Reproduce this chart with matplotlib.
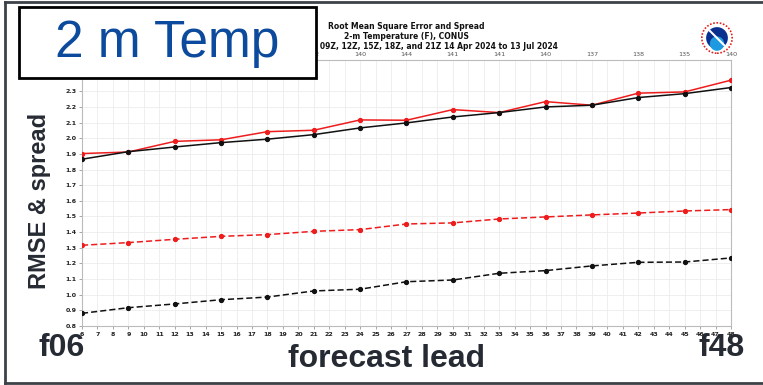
import matplotlib
matplotlib.use("Agg")
import matplotlib.pyplot as plt
from matplotlib.patches import Rectangle, Circle
from matplotlib.lines import Line2D

leads = [6, 9, 12, 15, 18, 21, 24, 27, 30, 33, 36, 39, 42, 45, 48]
rmse_red = [1.902, 1.912, 1.980, 1.990, 2.042, 2.051, 2.117, 2.115, 2.183, 2.164, 2.234, 2.211, 2.288, 2.296, 2.371]
rmse_black = [1.866, 1.914, 1.944, 1.972, 1.994, 2.023, 2.066, 2.098, 2.136, 2.164, 2.200, 2.211, 2.260, 2.285, 2.324]
spread_red = [1.316, 1.333, 1.354, 1.373, 1.384, 1.405, 1.416, 1.452, 1.459, 1.484, 1.497, 1.510, 1.522, 1.535, 1.544]
spread_black = [0.881, 0.917, 0.941, 0.968, 0.985, 1.024, 1.035, 1.083, 1.094, 1.137, 1.154, 1.184, 1.207, 1.209, 1.235]
# counts for leads 6-18 are hidden behind the title box in the reference
counts = ["", "", "", "", "", "142", "140", "144", "141", "141", "140", "137", "138", "135", "140"]
yticks = [0.8, 0.9, 1.0, 1.1, 1.2, 1.3, 1.4, 1.5, 1.6, 1.7, 1.8, 1.9, 2.0, 2.1, 2.2, 2.3]
xticks = list(range(6, 49))

W, H = 763, 385
fig = plt.figure(figsize=(W / 100, H / 100), dpi=100)
fig.patch.set_facecolor("white")

def fx(px):
    return px / W

def fy(py):
    return 1 - py / H

ax = fig.add_axes([fx(82), fy(326), fx(731) - fx(82), fy(60) - fy(326)])
ax.set_xlim(6, 48)
ax.set_ylim(0.8, 2.5)

red = "#ee1c1c"
blk = "#111111"
ax.plot(leads, rmse_red, color=red, lw=1.1, marker="o", ms=2.8, zorder=3)
ax.plot(leads, rmse_black, color=blk, lw=1.1, marker="o", ms=2.8, zorder=3)
ax.plot(leads, spread_red, color=red, lw=1.1, ls=(0, (4, 2)), marker="o", ms=2.8, zorder=3)
ax.plot(leads, spread_black, color=blk, lw=1.1, ls=(0, (4, 2)), marker="o", ms=2.8, zorder=3)

ax.set_xticks(xticks)
ax.set_xticklabels([str(v) for v in xticks], fontsize=4.5, fontweight="bold", color="#222222")
ax.set_yticks(yticks)
ax.set_yticklabels([f"{v:.1f}" for v in yticks], fontsize=4.5, fontweight="bold", color="#222222")
ax.tick_params(axis="both", length=2.5, width=0.6, color="#999999", pad=1.5)
ax.grid(True, color="#ededed", lw=0.6)
ax.set_axisbelow(True)
for s in ax.spines.values():
    s.set_color("#bbbbbb")
    s.set_linewidth(0.8)

# top axis with counts
ax2 = ax.twiny()
ax2.set_xlim(6, 48)
ax2.set_xticks(leads)
ax2.set_xticklabels(counts, fontsize=4.6, color="#555555")
ax2.tick_params(axis="x", length=0, pad=2)
for s in ax2.spines.values():
    s.set_visible(False)

ax2.set_title("Root Mean Square Error and Spread\n2-m Temperature (F), CONUS\n"
              "00Z, 03Z, 06Z, 09Z, 12Z, 15Z, 18Z, and 21Z 14 Apr 2024 to 13 Jul 2024",
              fontsize=5.5, fontweight="bold", linespacing=1.15, pad=8, color="#111111")

# NWS logo approximation
lax = fig.add_axes([fx(701), fy(54), fx(32), fy(22) - fy(54)])
lax.set_xlim(-1, 1)
lax.set_ylim(-1, 1)
lax.set_aspect("equal")
lax.axis("off")
lax.add_patch(Circle((0, 0), 0.95, facecolor="white", edgecolor="#e52222", lw=1.2, ls=(0, (1, 1))))
lax.add_patch(Circle((0, 0), 0.68, facecolor="#0a2f8f", edgecolor="none"))
lax.add_patch(Circle((0, -0.35), 0.45, facecolor="#1e9be0", edgecolor="none"))
lax.plot([-0.45, 0.45], [0.45, -0.45], color="white", lw=1.5)

# outer slide frame
frame = dict(color="#3d4248", lw=2)
fig.add_artist(Line2D([fx(5), fx(5)], [fy(2), fy(383)], **frame))
fig.add_artist(Line2D([fx(5), fx(762)], [fy(2), fy(2)], **frame))
fig.add_artist(Line2D([fx(5), fx(762)], [fy(383), fy(383)], **frame))

# title box
box = Rectangle((fx(19), fy(78)), fx(316) - fx(19), fy(7) - fy(78), transform=fig.transFigure,
                facecolor="white", edgecolor="black", lw=2, zorder=10)
fig.add_artist(box)
fig.text(fx(167), fy(43), "2 m Temp", fontsize=37, color="#0b4a9c", family="Liberation Sans",
         ha="center", va="center", zorder=11)

dark = "#262b33"
fig.text(fx(40), fy(201), "RMSE & spread", fontsize=17, fontweight="bold", color=dark,
         family="Liberation Sans", rotation=90, ha="center", va="center")
fig.text(fx(387), fy(359), "forecast lead", fontsize=23, fontweight="bold", color=dark,
         family="Liberation Sans", ha="center", va="center")
fig.text(fx(62), fy(348), "f06", fontsize=23, fontweight="bold", color=dark,
         family="Liberation Sans", ha="center", va="center")
fig.text(fx(722), fy(348), "f48", fontsize=23, fontweight="bold", color=dark,
         family="Liberation Sans", ha="center", va="center")

fig.savefig("out.png", dpi=100, facecolor="white")
